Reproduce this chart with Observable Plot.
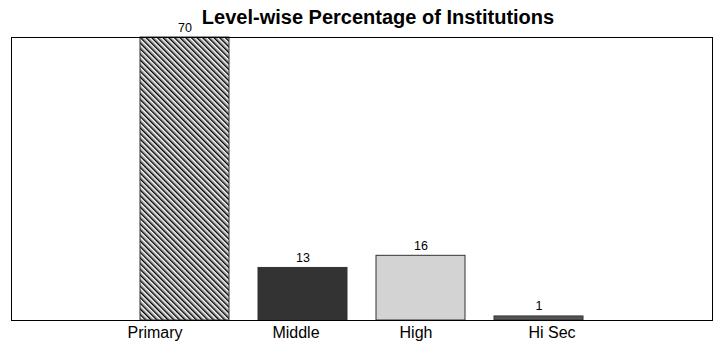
<!DOCTYPE html>
<html>
<head>
<meta charset="utf-8">
<script src="https://cdn.jsdelivr.net/npm/d3@7"></script>
<script src="https://cdn.jsdelivr.net/npm/@observablehq/plot@0.6"></script>
<style>
  html, body { margin: 0; padding: 0; background: #fff; }
  svg { font-family: "Liberation Sans", Arial, sans-serif; }
</style>
</head>
<body>
<div id="chart"></div>
<script>
const title = "Level-wise Percentage of Institutions";
const levels = ["Primary", "Middle", "High", "Hi Sec"];
const percents = [70, 13, 16, 1];
const fills = ["url(#hatch)", "#333333", "#d3d3d3", "#555555"];

const data = levels.map((level, i) => ({level, pct: percents[i], fill: fills[i]}));

// horizontal nudges of the category labels (as placed in the original)
const labelShift = [-30, -7, -5, 13];

const chart = Plot.plot({
  width: 715,
  height: 343,
  marginTop: 37,
  marginBottom: 23,
  marginLeft: 11,
  marginRight: 3,
  style: {fontFamily: "Liberation Sans, Arial, sans-serif", fontSize: "16px", background: "#fff", overflow: "visible"},
  x: {domain: levels, range: [140, 583], paddingInner: 0.246, paddingOuter: 0, axis: null},
  y: {domain: [0, 70], axis: null},
  marks: [
    Plot.barY(data, {x: "level", y: "pct", fill: "fill", stroke: "#333", strokeWidth: 1}),
    Plot.text(data, {x: "level", y: "pct", text: d => String(d.pct), dy: -10, fontSize: 12.5, fill: "#000"}),
    Plot.frame({stroke: "#000", strokeWidth: 1}),
    ...levels.map((lv, i) => Plot.text([lv], {x: d => d, text: d => d, frameAnchor: "bottom", lineAnchor: "top", dy: 6, dx: labelShift[i], fontSize: 16, fill: "#000"})),
    Plot.text([title], {frameAnchor: "top", lineAnchor: "bottom", dy: -14, dx: 16, fontSize: 20, fontWeight: "bold", fill: "#000"})
  ]
});

const svg = d3.select(chart);
const defs = svg.insert("defs", ":first-child");
const pat = defs.append("pattern")
  .attr("id", "hatch")
  .attr("patternUnits", "userSpaceOnUse")
  .attr("width", 4).attr("height", 4)
  .attr("patternTransform", "rotate(-45)");
pat.append("rect").attr("width", 4).attr("height", 4).attr("fill", "#ffffff");
pat.append("rect").attr("x", 0).attr("width", 1.5).attr("height", 4).attr("fill", "#000000");
pat.append("rect").attr("x", 1.5).attr("width", 1.0).attr("height", 4).attr("fill", "#7a7a7a");

document.getElementById("chart").appendChild(chart);
</script>
</body>
</html>
